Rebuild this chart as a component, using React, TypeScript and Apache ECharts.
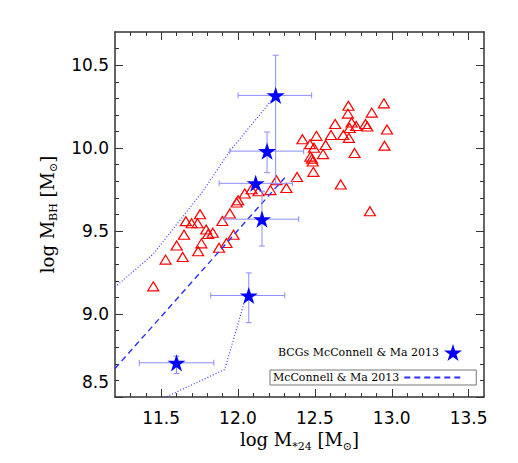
import React, { useEffect, useRef } from 'react';
import * as echarts from 'echarts';

// ---- data ----
const triX = [11.449, 11.529, 11.640, 11.601, 11.649, 11.741, 11.762, 11.661, 11.698, 11.737,
  11.753, 11.793, 11.806, 11.836, 11.877, 11.925, 11.971, 11.898, 11.947, 11.991,
  12.001, 12.044, 12.088, 12.133, 12.211, 12.250, 12.315, 12.384, 12.668, 12.858,
  12.490, 12.471, 12.481, 12.486, 12.553, 12.758, 12.953, 12.419, 12.468, 12.570,
  12.494, 12.510, 12.605, 12.685, 12.721, 12.632, 12.739, 12.769, 12.829, 12.841,
  12.726, 12.969, 12.718, 12.949, 12.715, 12.870];
const triY = [9.167, 9.328, 9.344, 9.413, 9.478, 9.378, 9.426, 9.560, 9.547, 9.547,
  9.602, 9.510, 9.482, 9.490, 9.400, 9.428, 9.478, 9.561, 9.606, 9.672,
  9.686, 9.727, 9.752, 9.740, 9.747, 9.807, 9.760, 9.826, 9.781, 9.620,
  9.857, 9.949, 9.937, 9.919, 9.964, 9.971, 10.015, 10.054, 10.024, 10.019,
  10.002, 10.074, 10.079, 10.079, 10.062, 10.145, 10.155, 10.133, 10.145, 10.130,
  10.121, 10.112, 10.255, 10.270, 10.208, 10.214];

const starX = [12.245, 12.189, 12.115, 12.156, 12.070, 11.600];
const starY = [10.318, 9.982, 9.788, 9.572, 9.112, 8.706];
const starXLo = [12.000, 11.947, 11.877, 11.914, 11.823, 11.358];
const starXHi = [12.479, 12.427, 12.354, 12.395, 12.304, 11.843];
const starYLo = [9.784, 9.852, 9.788, 9.410, 8.948, 8.642];
const starYHi = [10.560, 10.097, 9.788, 9.740, 9.248, 8.746];

const fitX = [11.2, 12.304];
const fitY = [8.672, 9.822];
const upX = [11.2, 11.449, 11.773, 11.947, 12.239];
const upY = [9.162, 9.362, 9.742, 9.982, 10.312];
const loX = [11.536, 11.914, 12.044, 12.07];
const loY = [8.502, 8.666, 9.082, 9.112];

const xMajor = [11.5, 12.0, 12.5, 13.0, 13.5];
const yMajor = [8.5, 9.0, 9.5, 10.0, 10.5];
const X_MIN = 11.2, X_MAX = 13.6, Y_MIN = 8.5, Y_MAX = 10.7;

function minors(lo: number, hi: number, majors: number[]) {
  const out: number[] = [];
  for (let i = Math.round(lo * 10) + 1; i < Math.round(hi * 10); i++) {
    const v = i / 10;
    if (!majors.some((m) => Math.abs(m - v) < 1e-6)) out.push(v);
  }
  return out;
}
const xMinor = minors(X_MIN, X_MAX, xMajor);
const yMinor = minors(Y_MIN, Y_MAX, yMajor);

const STAR = 'path://M0,-1L0.2245,-0.309L0.951,-0.309L0.3633,0.118L0.5878,0.809L0,0.382L-0.5878,0.809L-0.3633,0.118L-0.951,-0.309L-0.2245,-0.309Z';

const AX = '#333';
const BLUE = '#0000ff';
const ERR = '#8c8cff';
const TICK_FONT = 'DejaVu Sans';
const TITLE_FONT = 'DejaVu Serif';
const LEG_FONT = 'DejaVu Serif';

function axisSet(kind: 'x' | 'y', min: number, max: number, majors: number[], minorVals: number[], extra: any) {
  const pos = kind === 'x' ? ['bottom', 'top'] : ['left', 'right'];
  const base = { type: 'value', min, max, splitLine: { show: false } };
  const line = { show: true, onZero: false, lineStyle: { color: AX, width: 1.5 } };
  return [
    {
      ...base, position: pos[0], axisLine: line,
      axisTick: { show: true, inside: true, length: 8, customValues: majors, lineStyle: { color: AX, width: 1 } },
      ...extra,
    },
    {
      ...base, position: pos[0], axisLine: { show: false },
      axisTick: { show: true, inside: true, length: 4, customValues: minorVals, lineStyle: { color: AX, width: 1 } },
      axisLabel: { show: false },
    },
    {
      ...base, position: pos[1], axisLine: line,
      axisTick: { show: true, inside: true, length: 8, customValues: majors, lineStyle: { color: AX, width: 1 } },
      axisLabel: { show: false },
    },
    {
      ...base, position: pos[1], axisLine: { show: false },
      axisTick: { show: true, inside: true, length: 4, customValues: minorVals, lineStyle: { color: AX, width: 1 } },
      axisLabel: { show: false },
    },
  ];
}

const titleRich = {
  a: { fontFamily: TITLE_FONT, fontSize: 18, color: '#000', lineHeight: 24 },
  b: { fontFamily: TITLE_FONT, fontSize: 11, color: '#000', verticalAlign: 'bottom', lineHeight: 10 },
};

export default function App() {
  const ref = useRef<HTMLDivElement>(null);
  useEffect(() => {
    const chart = echarts.init(ref.current!, null, { renderer: 'svg' });
    const errData = starX.map((x, i) => [x, starY[i], starXLo[i], starXHi[i], starYLo[i], starYHi[i]]);
    const option: any = {
      animation: false,
      backgroundColor: '#fff',
      grid: { left: 115, top: 32, right: 34, bottom: 66, containLabel: false, outerBoundsMode: 'none' },
      xAxis: axisSet('x', X_MIN, X_MAX, xMajor, xMinor, {
        axisLabel: {
          show: true, customValues: xMajor, margin: 12,
          formatter: (v: number) => v.toFixed(1),
          fontFamily: TICK_FONT, fontSize: 17, color: '#000',
        },
        name: '{a|log M}{b|*24}{a| [M}{b|⊙}{a|]}',
        nameLocation: 'middle', nameGap: 30,
        nameTextStyle: { rich: titleRich },
      }),
      yAxis: axisSet('y', Y_MIN, Y_MAX, yMajor, yMinor, {
        axisLabel: {
          show: true, customValues: yMajor, margin: 6,
          formatter: (v: number) => (Math.abs(v - 8.5) < 1e-6 ? '{lo|8.5}' : v.toFixed(1)),
          fontFamily: TICK_FONT, fontSize: 17, color: '#000',
          rich: { lo: { fontFamily: TICK_FONT, fontSize: 17, color: '#000', padding: [0, 0, 30, 0] } },
        },
        name: '{a|log M}{b|BH}{a| [M}{b|⊙}{a|]}',
        nameLocation: 'middle', nameGap: 56, nameRotate: 90,
        nameTextStyle: { rich: titleRich },
      }),
      legend: [
        {
          data: ['BCGs McConnell & Ma 2013'], right: 56, top: 344, padding: 0, align: 'right',
          itemWidth: 18, itemHeight: 18, selectedMode: false,
          itemStyle: { opacity: 1 },
          textStyle: { fontFamily: LEG_FONT, fontSize: 11, color: '#000' },
        },
        {
          data: ['McConnell & Ma 2013'], left: 270, top: 370, padding: [2, 13, 2, 3], align: 'right',
          borderColor: '#777', borderWidth: 1, borderRadius: 0,
          itemWidth: 58, itemHeight: 10, selectedMode: false,
          itemStyle: { color: 'rgba(0,0,0,0)', borderWidth: 0, borderColor: 'rgba(0,0,0,0)' },
          textStyle: { fontFamily: LEG_FONT, fontSize: 11, color: '#000' },
        },
      ],
      series: [
        {
          type: 'scatter', name: 'triangles', symbol: 'triangle', symbolSize: [11, 9],
          data: triX.map((x, i) => [x, triY[i]]),
          itemStyle: { color: 'rgba(0,0,0,0)', borderColor: '#ff0000', borderWidth: 1.2, opacity: 1 },
          z: 2,
        },
        {
          type: 'line', name: 'McConnell & Ma 2013', symbol: 'none', showSymbol: false,
          data: fitX.map((x, i) => [x, fitY[i]]),
          lineStyle: { color: '#2f2fff', width: 1.4, type: [6, 4] },
          itemStyle: { color: '#2f2fff' },
          z: 3,
        },
        {
          type: 'line', name: 'upper', symbol: 'none',
          data: upX.map((x, i) => [x, upY[i]]),
          lineStyle: { color: '#3a3aff', width: 1.2, type: [1, 2] },
          z: 3,
        },
        {
          type: 'line', name: 'lower', symbol: 'none',
          data: loX.map((x, i) => [x, loY[i]]),
          lineStyle: { color: '#3a3aff', width: 1.2, type: [1, 2] },
          z: 3,
        },
        {
          type: 'custom', name: 'err',
          data: errData,
          encode: { x: [0, 2, 3], y: [1, 4, 5] },
          z: 4,
          renderItem: (params: any, api: any) => {
            const x = api.value(0), y = api.value(1);
            const xl = api.value(2), xh = api.value(3), yl = api.value(4), yh = api.value(5);
            const pL = api.coord([xl, y]), pR = api.coord([xh, y]);
            const c = 3;
            const style = { stroke: ERR, lineWidth: 1, fill: null };
            const ch: any[] = [
              { type: 'line', shape: { x1: pL[0], y1: pL[1], x2: pR[0], y2: pR[1] }, style },
              { type: 'line', shape: { x1: pL[0], y1: pL[1] - c, x2: pL[0], y2: pL[1] + c }, style },
              { type: 'line', shape: { x1: pR[0], y1: pR[1] - c, x2: pR[0], y2: pR[1] + c }, style },
            ];
            if (yh > yl) {
              const pB = api.coord([x, yl]), pT = api.coord([x, yh]);
              ch.push(
                { type: 'line', shape: { x1: pB[0], y1: pB[1], x2: pT[0], y2: pT[1] }, style },
                { type: 'line', shape: { x1: pB[0] - c, y1: pB[1], x2: pB[0] + c, y2: pB[1] }, style },
                { type: 'line', shape: { x1: pT[0] - c, y1: pT[1], x2: pT[0] + c, y2: pT[1] }, style },
              );
            }
            return { type: 'group', children: ch };
          },
        },
        {
          type: 'scatter', name: 'BCGs McConnell & Ma 2013', symbol: STAR, symbolSize: 18,
          symbolKeepAspect: true,
          data: starX.map((x, i) => [x, starY[i]]),
          itemStyle: { color: BLUE, opacity: 1 },
          z: 5,
        },
      ],
    };
    chart.setOption(option);
    return () => chart.dispose();
  }, []);
  return (
    <div
      ref={ref}
      style={{ position: 'absolute', left: 0, top: 0, width: 518, height: 463, background: '#fff' }}
    />
  );
}
